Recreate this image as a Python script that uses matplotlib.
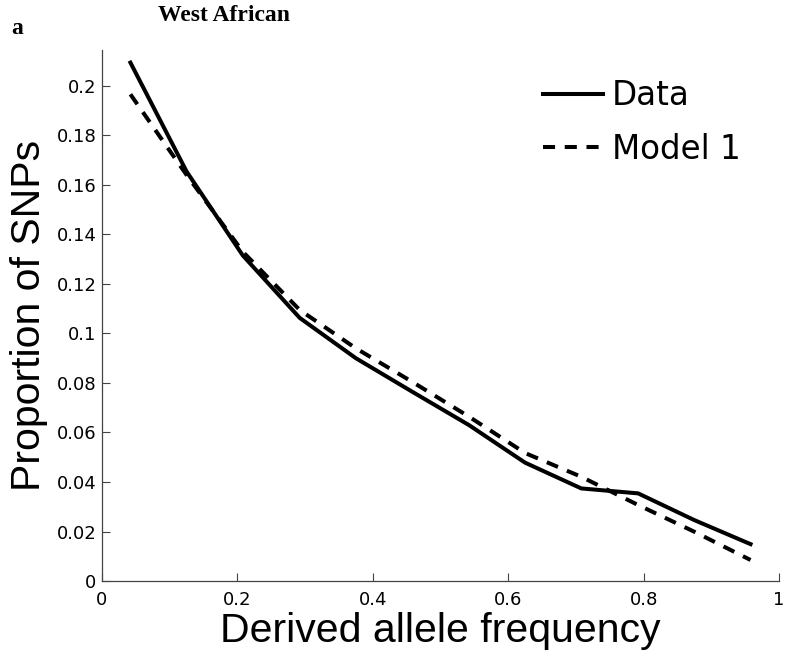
import matplotlib
matplotlib.use('Agg')
from matplotlib import pyplot as plt
from matplotlib.ticker import FuncFormatter

# derived allele frequency bins (12 bins)
freq = [0.042, 0.125, 0.208, 0.292, 0.375, 0.458, 0.542, 0.625, 0.708, 0.792, 0.875, 0.958]
data = [0.2094, 0.1654, 0.1315, 0.1063, 0.0900, 0.0765, 0.0630, 0.0478, 0.0374, 0.0354, 0.0246, 0.0149]
model1 = [0.1966, 0.1640, 0.1330, 0.1095, 0.0940, 0.0805, 0.0664, 0.0517, 0.0421, 0.0307, 0.0199, 0.0085]

xticks = [0, 0.2, 0.4, 0.6, 0.8, 1]
yticks = [0, 0.02, 0.04, 0.06, 0.08, 0.1, 0.12, 0.14, 0.16, 0.18, 0.2]

plt.rcParams['font.family'] = ['Liberation Sans', 'DejaVu Sans']

fig = plt.figure(figsize=(7.87, 6.56), dpi=100)
ax = fig.add_axes([0.1296, 0.1143, 0.8602, 0.8095])

ax.plot(freq, data, color='black', lw=2.9, label='Data')
ax.plot(freq, model1, color='black', lw=2.9, linestyle=(0, (3.0, 2.4)), label='Model 1')

ax.set_xlim(0, 1)
ax.set_ylim(0, 0.2145)
ax.set_xticks(xticks)
ax.set_yticks(yticks)
fmt = FuncFormatter(lambda v, p: '%g' % v)
ax.xaxis.set_major_formatter(fmt)
ax.yaxis.set_major_formatter(fmt)
ax.tick_params(direction='in', length=6, width=0.8, colors='#444444', labelcolor='black')
ax.tick_params(axis='x', pad=7)
ax.tick_params(axis='y', pad=4)
for lab in ax.get_xticklabels() + ax.get_yticklabels():
    lab.set_family('DejaVu Sans')
    lab.set_fontsize(13)
for s in ['top', 'right']:
    ax.spines[s].set_visible(False)
for s in ['left', 'bottom']:
    ax.spines[s].set_color('#444444')
    ax.spines[s].set_linewidth(0.9)

ax.set_xlabel('Derived allele frequency', fontsize=29.5, labelpad=2)
ax.set_ylabel('Proportion of SNPs', fontsize=29.5, labelpad=6)

leg = ax.legend(loc='upper left', bbox_to_anchor=(543 / 787, 1 - 79 / 656),
                bbox_transform=fig.transFigure, frameon=False,
                prop={'family': 'DejaVu Sans', 'size': 23.5},
                handlelength=1.84, handletextpad=0.28, labelspacing=0.64,
                borderpad=0, borderaxespad=0)

fig.text(158 / 787, 1 - 21 / 656, 'West African', fontsize=17, fontweight='bold',
         family='Liberation Serif', va='baseline')
fig.text(11 / 787, 1 - 34 / 656, 'a', fontsize=17, fontweight='bold',
         family='Liberation Serif', va='baseline')

plt.savefig('out.png', dpi=100)
